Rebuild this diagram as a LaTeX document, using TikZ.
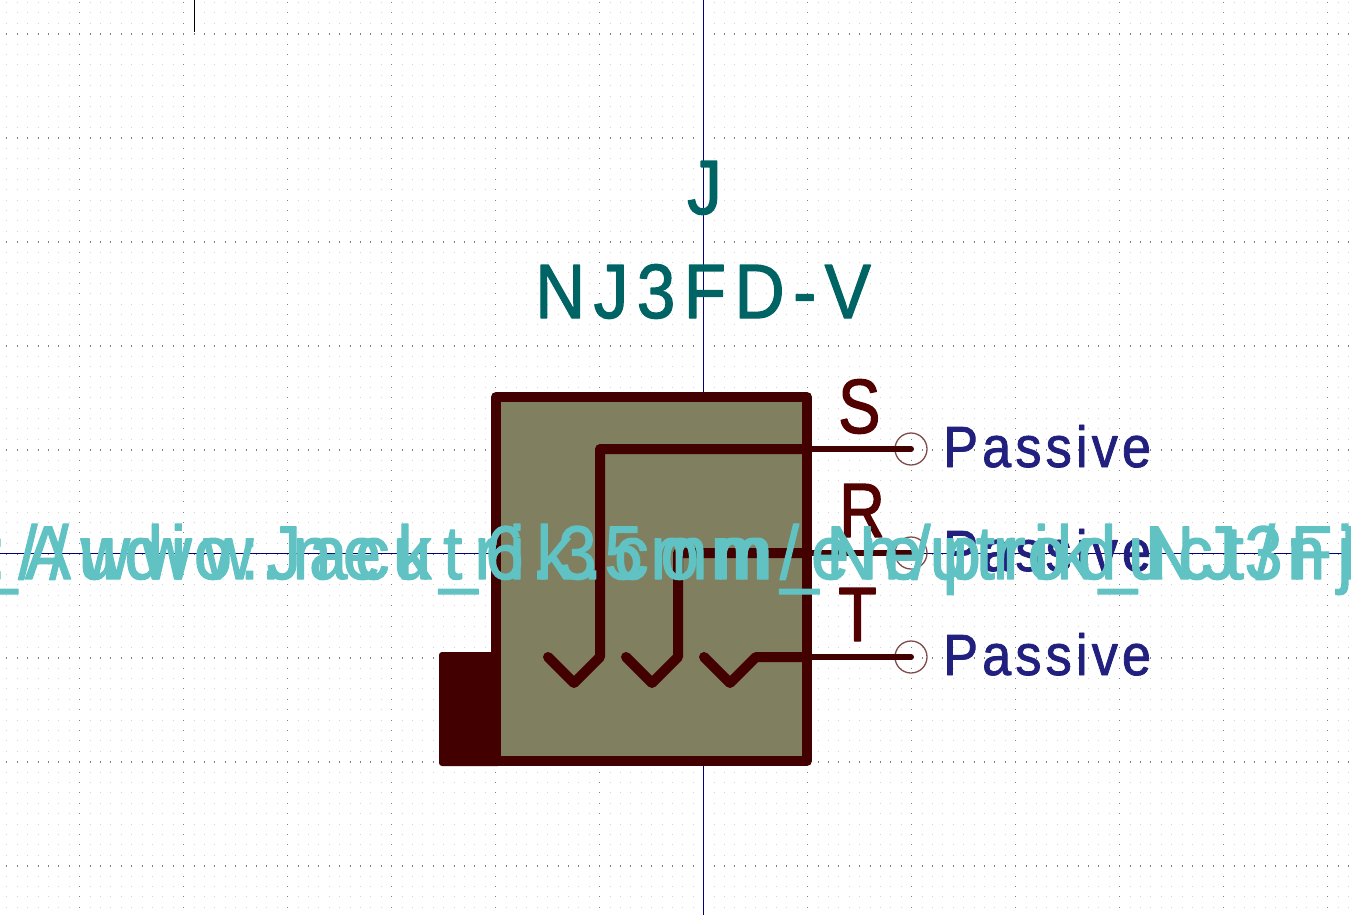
\documentclass[tikz,border=0pt]{standalone}
\usepackage{fontspec}
\setmainfont{Liberation Sans}
\newfontfamily\nameFont[FakeStretch=0.82,FakeBold=1.6]{Liberation Sans}
\newfontfamily\refFont[FakeStretch=0.9,LetterSpace=11,FakeBold=1.6]{Liberation Sans}
\newfontfamily\pinFont[FakeStretch=0.9,LetterSpace=7.2,FakeBold=1.4]{Liberation Sans}
\newfontfamily\fpFont[FakeStretch=0.9,LetterSpace=10.5,FakeBold=1.6]{Liberation Sans}
\newfontfamily\dsFont[FakeStretch=0.9,LetterSpace=16,FakeBold=1.6]{Liberation Sans}
\usetikzlibrary{calc,positioning}
\definecolor{bodyLine}{HTML}{420000}
\definecolor{bodyFill}{HTML}{808060}
\definecolor{pinName}{HTML}{520000}
\definecolor{pinRing}{HTML}{7F4A4A}
\definecolor{refText}{HTML}{006464}
\definecolor{typeText}{HTML}{22207E}
\definecolor{fieldText}{HTML}{60C2C2}
\definecolor{cursorLine}{HTML}{000080}
\tikzset{
  minorDot/.style={draw=black!17, line width=1pt, dash pattern=on 1pt off 9.4pt},
  majorDot/.style={draw=black!50, line width=2pt, dash pattern=on 1pt off 9.4pt},
  wire/.style={draw=bodyLine, line width=10pt, line join=round, line cap=round},
  pinWire/.style={draw=bodyLine, line width=6pt, line cap=round},
  pinEnd/.style={circle, draw=pinRing, line width=1.3pt, minimum size=32pt, inner sep=0pt},
  label/.style={inner sep=0pt, anchor=base west},
}
\begin{document}
\begin{tikzpicture}[x=1pt, y=-1pt]
    \useasboundingbox (0,0) rectangle (1351,915);
    \clip (0,0) rectangle (1351,915);

    % Draw grid
    \foreach \k in {0,...,87}
        \draw[minorDot] (6.4,{2.5+10.4*\k}) -- (1351,{2.5+10.4*\k});
    \foreach \k in {3,13,...,83}
        \draw[majorDot] (6.4,{2.5+10.4*\k}) -- (1351,{2.5+10.4*\k});
    \foreach \k in {7,17,...,127}
        \draw[majorDot, line width=1pt, draw=black!50] ({6.9+10.4*\k},2) -- ({6.9+10.4*\k},915);

    % Draw cursor lines
    \draw[cursorLine, line width=1pt] (703.5,0) -- (703.5,915);
    \draw[cursorLine, line width=1pt] (0,553.5) -- (1351,553.5);
    \draw[black, line width=1pt] (194.5,0) -- (194.5,32);

    % Draw the body
    \fill[bodyLine, rounded corners=3pt] (439,652) rectangle (501,766);
    \draw[wire, line cap=butt, fill=bodyFill] (496,397) rectangle (807,761);

    % Draw the pins
    \node[pinEnd] (pinS) at (911,449) {};
    \node[pinEnd] (pinR) at (911,553) {};
    \node[pinEnd] (pinT) at (911,657) {};
    \coordinate (edgeS) at (807,449);
    \coordinate (edgeR) at (807,553);
    \coordinate (edgeT) at (807,657);
    \draw[pinWire] (edgeS) -- (pinS.center);
    \draw[pinWire] (edgeR) -- (pinR.center);
    \draw[pinWire] (edgeT) -- (pinT.center);
    \draw[wire] (edgeS) -- (600,449) -- (600,657) -- (574,683) -- (548,657);
    \draw[wire] (edgeR) -- (678,553) -- (678,657) -- (652,683) -- (626,657);
    \draw[wire] (edgeT) -- (756,657) -- (730,683) -- (704,657);

    \begin{scope}[line join=round, line cap=round]
    % Draw pin names and types
    \node[label, text=pinName, font=\nameFont\fontsize{77}{77}\selectfont] (nameS) at (838,433) {S};
    \node[label, text=pinName, font=\nameFont\fontsize{77}{77}\selectfont] (nameR) at (839,537) {R};
    \node[label, text=pinName, font=\nameFont\fontsize{77}{77}\selectfont] (nameT) at (838,641) {T};
    \node[label, text=typeText, font=\pinFont\fontsize{58}{58}\selectfont] (typeS) at (943,467) {Passive};
    \node[label, text=typeText, font=\pinFont\fontsize{58}{58}\selectfont] (typeR) at (943,571) {Passive};
    \node[label, text=typeText, font=\pinFont\fontsize{58}{58}\selectfont] (typeT) at (943,675) {Passive};

    % Draw reference and value
    \node[label, text=refText, font=\refFont\fontsize{77}{77}\selectfont] (refJ) at (687,214) {J};
    \node[label, text=refText, font=\refFont\fontsize{77}{77}\selectfont] (valueJ) at (535,318) {NJ3FD-V};

    % Draw footprint and datasheet fields
    \node[label, text=fieldText, font=\fpFont\fontsize{76}{76}\selectfont] (footprintField) at (-21,579) {\_Audio:Jack\_6.35mm\_Neutrik\_NJ3FD-V\_Vertical};
    \node[label, text=fieldText, font=\dsFont\fontsize{76}{76}\selectfont] (datasheetField) at (-13,579) {://www.neutrik.com/en/product/nj3fd-v};
    \end{scope}
\end{tikzpicture}
\end{document}
